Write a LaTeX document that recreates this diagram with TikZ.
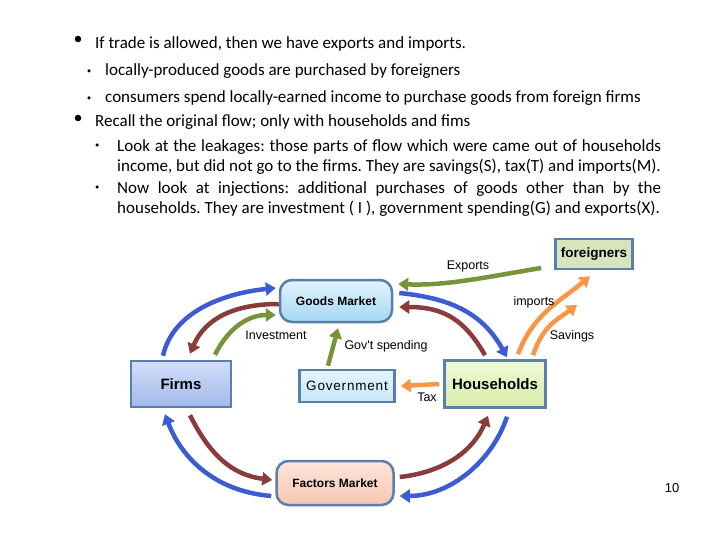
\documentclass[tikz,border=0pt]{standalone}
\usepackage{fontspec}
\setmainfont{Carlito}
\newfontfamily\slidefont{Carlito}
\newfontfamily\diagfont{Liberation Sans}
\usetikzlibrary{arrows.meta}
\definecolor{flowblue}{HTML}{3D5CD4}
\definecolor{flowred}{HTML}{8C3B3B}
\definecolor{flowgreen}{HTML}{77933C}
\definecolor{floworange}{HTML}{F79646}
\definecolor{boxline}{HTML}{5B7FAD}
\definecolor{firmtop}{HTML}{D2DDF8}
\definecolor{firmbot}{HTML}{A2BAEB}
\definecolor{goodtop}{HTML}{E2F4FC}
\definecolor{goodbot}{HTML}{A4D8F3}
\definecolor{govfill}{HTML}{C8E8F8}
\definecolor{hhtop}{HTML}{F0F9D8}
\definecolor{hhbot}{HTML}{D6EDA6}
\definecolor{forfill}{HTML}{D7E4BD}
\definecolor{factop}{HTML}{FDE6DA}
\definecolor{facbot}{HTML}{F7C6B2}
\tikzset{
    box/.style={draw=boxline, line width=2.5pt, inner sep=0pt},
    flow/.style={line width=4.5pt, -{Triangle[length=10pt,width=13pt]}},
    lbl/.style={font=\diagfont\fontsize{12.5}{14}\selectfont, inner sep=0pt},
    bigdot/.style={circle, fill=black, inner sep=0pt, minimum size=6.5pt},
    smalldot/.style={circle, fill=black, inner sep=0pt, minimum size=3.5pt},
    line1/.style={anchor=west, inner sep=0pt, font=\slidefont\fontsize{17}{20}\selectfont\frenchspacing},
}
\begin{document}
\begin{tikzpicture}[x=1pt, y=-1pt]
    \useasboundingbox (0,0) rectangle (720,540);

    % bullets
    \node[bigdot] (d1) at (78,39) {};
    \node[line1] (t1) at (95,44) {If trade is allowed, then we have exports and imports.};
    \node[smalldot] (d2) at (89,71) {};
    \node[line1] (t2) at (105,71) {locally-produced goods are purchased by foreigners};
    \node[smalldot] (d3) at (89,98) {};
    \node[line1] (t3) at (105,98) {consumers spend locally-earned income to purchase goods from foreign firms};
    \node[bigdot] (d4) at (78,118) {};
    \node[line1] (t4) at (95,122) {Recall the original flow; only with households and fims};
    \node[smalldot] (d5) at (97,145) {};
    \node[line1, anchor=north west, text width=544pt, align=justify] (t5) at (117,139)
        {Look at the leakages: those parts of flow which were came out of households\linebreak
         income, but did not go to the firms. They are savings(S), tax(T) and imports(M).};
    \node[smalldot] (d6) at (97,187) {};
    \node[line1, anchor=north west, text width=544pt, align=justify] (t6) at (117,181)
        {Now look at injections: additional purchases of goods other than by the\linebreak
         households. They are investment ( I ), government spending(G) and exports(X).};

    % boxes
    \node[box, top color=firmtop, bottom color=firmbot,
          minimum width=100pt, minimum height=46pt,
          font=\diagfont\bfseries\fontsize{15}{17}\selectfont] (firms) at (181,384) {Firms};
    \node[box, rounded corners=12pt, top color=goodtop, bottom color=goodbot,
          minimum width=112pt, minimum height=42pt,
          font=\diagfont\bfseries\fontsize{12}{14}\selectfont] (goods) at (336,301) {Goods Market};
    \node[box, top color=goodtop, bottom color=govfill,
          minimum width=95pt, minimum height=32pt,
          font=\diagfont\fontsize{13.5}{15}\selectfont] (gov) at (347,386) {\addfontfeature{LetterSpace=6}Government};
    \node[box, top color=hhtop, bottom color=hhbot,
          minimum width=101pt, minimum height=47pt,
          font=\diagfont\bfseries\fontsize{15}{17}\selectfont] (hh) at (495,384) {Households};
    \node[box, fill=forfill,
          minimum width=77pt, minimum height=30pt,
          font=\diagfont\bfseries\fontsize{13.5}{15}\selectfont] (foreign) at (594,254) {foreigners};
    \node[box, rounded corners=12pt, top color=factop, bottom color=facbot,
          minimum width=117pt, minimum height=44pt,
          font=\diagfont\bfseries\fontsize{12}{14}\selectfont] (factors) at (335,483) {Factors Market};

    % flows round Goods Market
    \draw[flow, flowblue] ([xshift=-18pt,yshift=4pt]firms.north) .. controls +(10,-45) and +(-50,5) .. ([xshift=-3pt,yshift=13pt]goods.west);
    \draw[flow, flowred] ([yshift=-3pt]goods.west) .. controls +(-45,0) and +(15,-35) .. ([xshift=9pt,yshift=6pt]firms.north);
    \draw[flow, flowgreen] ([xshift=34pt,yshift=5pt]firms.north) .. controls +(15,-30) and +(-25,0) .. ([xshift=-3pt,yshift=-14pt]goods.west);
    \draw[flow, flowgreen] ([xshift=-19pt,yshift=3pt]gov.north) -- ([xshift=2pt,yshift=-5pt]goods.south);
    \draw[flow, flowgreen] ([xshift=-13pt,yshift=-14pt]foreign.west) .. controls +(-50,8) and +(50,2) .. ([xshift=5pt,yshift=17pt]goods.east);
    \draw[flow, flowblue] ([xshift=6pt,yshift=8pt]goods.east) .. controls +(50,5) and +(-25,-45) .. ([xshift=12pt,yshift=2pt]hh.north);
    \draw[flow, flowred] ([xshift=-10pt,yshift=4pt]hh.north) .. controls +(-20,-35) and +(45,0) .. ([xshift=6pt,yshift=-6pt]goods.east);

    % leakages
    \coordinate (savend) at (577,305);
    \draw[flow, floworange] ([xshift=23pt,yshift=5pt]hh.north) .. controls +(15,-40) and +(-30,25) .. ([xshift=-4pt,yshift=-6pt]foreign.south);
    \draw[flow, floworange] ([xshift=38pt,yshift=4pt]hh.north) .. controls +(10,-30) and +(-20,15) .. (savend);
    \draw[flow, floworange] ([xshift=-4pt]hh.west) -- ([xshift=5pt]gov.east);

    % flows round Factors Market
    \draw[flow, flowred] ([xshift=9pt,yshift=-7pt]firms.south) .. controls +(20,40) and +(-40,-5) .. ([xshift=-3pt,yshift=3pt]factors.west);
    \draw[flow, flowblue] ([xshift=-4pt,yshift=-13pt]factors.west) .. controls +(-60,-5) and +(15,40) .. ([xshift=-16pt,yshift=-6pt]firms.south);
    \draw[flow, flowred] ([xshift=5pt,yshift=6pt]factors.east) .. controls +(45,-5) and +(-15,35) .. ([xshift=-7pt,yshift=-7pt]hh.south);
    \draw[flow, flowblue] ([xshift=12pt,yshift=-8pt]hh.south) .. controls +(-15,45) and +(50,0) .. ([xshift=5pt,yshift=-13pt]factors.east);

    % labels
    \node[lbl] (inv) at (276,335) {Investment};
    \node[lbl] (gsp) at (386,346) {Gov't spending};
    \node[lbl] (exp) at (468,266) {Exports};
    \node[lbl] (imp) at (534,302) {imports};
    \node[lbl] (sav) at (572,336) {Savings};
    \node[lbl] (tax) at (427,397) {Tax};
    \node[font=\diagfont\fontsize{13}{15}\selectfont, inner sep=0pt] (page) at (672,488) {10};
\end{tikzpicture}
\end{document}
